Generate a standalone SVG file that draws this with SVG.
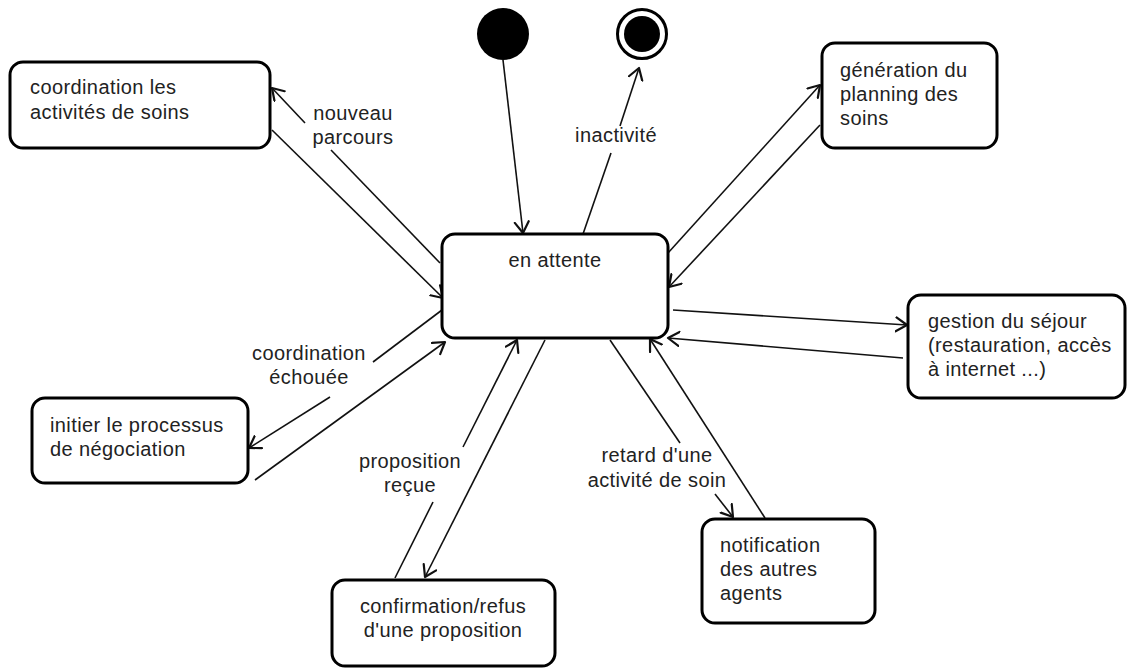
<svg xmlns="http://www.w3.org/2000/svg" width="1128" height="669" viewBox="0 0 1128 669">
<defs>
<style>
.box{fill:#fff;stroke:#000;stroke-width:3}
.t{font-family:"Liberation Sans",Arial,sans-serif;font-size:20px;fill:#222;letter-spacing:0.4px}
.c{text-anchor:middle}
.ln{stroke:#111;stroke-width:1.6;fill:none}
.a{marker-end:url(#arr)}
</style>
<marker id="arr" markerUnits="userSpaceOnUse" markerWidth="16" markerHeight="18" refX="12" refY="8" orient="auto">
<path d="M1,1 L12,8 L1,15" fill="none" stroke="#111" stroke-width="2.2" stroke-linecap="round" stroke-linejoin="round"/>
</marker>
</defs>
<rect width="1128" height="669" fill="#fff"/>
<g id="connectors">
<line class="ln a" x1="503" y1="60" x2="523" y2="233"/>
<line class="ln" x1="583" y1="234" x2="611" y2="153"/>
<line class="ln a" x1="620" y1="126" x2="639" y2="68"/>
<line class="ln" x1="440" y1="263" x2="331" y2="150"/>
<line class="ln a" x1="305" y1="123" x2="272" y2="88"/>
<line class="ln a" x1="272" y1="130" x2="443" y2="298"/>
<line class="ln a" x1="668" y1="253" x2="820" y2="85"/>
<line class="ln a" x1="820" y1="125" x2="669" y2="287"/>
<line class="ln a" x1="673" y1="310" x2="907" y2="325"/>
<line class="ln a" x1="903" y1="358" x2="668" y2="338"/>
<line class="ln" x1="610" y1="340" x2="680" y2="443"/>
<line class="ln a" x1="715" y1="494" x2="733" y2="517"/>
<line class="ln a" x1="765" y1="518" x2="650" y2="339"/>
<line class="ln a" x1="545" y1="340" x2="425" y2="577"/>
<line class="ln" x1="395" y1="578" x2="433" y2="502"/>
<line class="ln a" x1="463" y1="447" x2="517" y2="340"/>
<line class="ln" x1="442" y1="310" x2="373" y2="362"/>
<line class="ln a" x1="330" y1="397" x2="249" y2="448"/>
<line class="ln a" x1="255" y1="480" x2="445" y2="342"/>
<text class="t c" x="353" y="120">nouveau</text>
<text class="t c" x="353" y="144">parcours</text>
<text class="t c" x="616" y="142">inactivité</text>
<text class="t c" x="309" y="360">coordination</text>
<text class="t c" x="309" y="384">échouée</text>
<text class="t c" x="410" y="468">proposition</text>
<text class="t c" x="410" y="492">reçue</text>
<text class="t c" x="657" y="462">retard d'une</text>
<text class="t c" x="657" y="487">activité de soin</text>
</g>
<g id="start"><circle cx="503" cy="34" r="26" fill="#000"/></g>
<g id="end"><circle cx="642" cy="34" r="24.5" fill="#fff" stroke="#000" stroke-width="3"/><circle cx="642" cy="34" r="18" fill="#000"/></g>
<g id="n-attente"><rect class="box" x="442" y="234" width="226" height="104" rx="13"/><text class="t c" x="555" y="267">en attente</text></g>
<g id="n-coord"><rect class="box" x="10" y="62" width="260" height="86" rx="13"/><text class="t" x="30" y="94">coordination les</text><text class="t" x="30" y="119">activités de soins</text></g>
<g id="n-gen"><rect class="box" x="822" y="43" width="175" height="105" rx="13"/><text class="t" x="840" y="77">génération du</text><text class="t" x="840" y="101">planning des</text><text class="t" x="840" y="125">soins</text></g>
<g id="n-gestion"><rect class="box" x="908" y="295" width="217" height="103" rx="13"/><text class="t" x="928" y="328">gestion du séjour</text><text class="t" x="928" y="352">(restauration, accès</text><text class="t" x="928" y="376">à internet ...)</text></g>
<g id="n-initier"><rect class="box" x="32" y="398" width="216" height="85" rx="13"/><text class="t" x="50" y="432">initier le processus</text><text class="t" x="50" y="456">de négociation</text></g>
<g id="n-confirm"><rect class="box" x="332" y="580" width="223" height="86" rx="13"/><text class="t c" x="443" y="613">confirmation/refus</text><text class="t c" x="443" y="637">d'une proposition</text></g>
<g id="n-notif"><rect class="box" x="702" y="519" width="173" height="104" rx="13"/><text class="t" x="720" y="552">notification</text><text class="t" x="720" y="576">des autres</text><text class="t" x="720" y="600">agents</text></g>
</svg>
